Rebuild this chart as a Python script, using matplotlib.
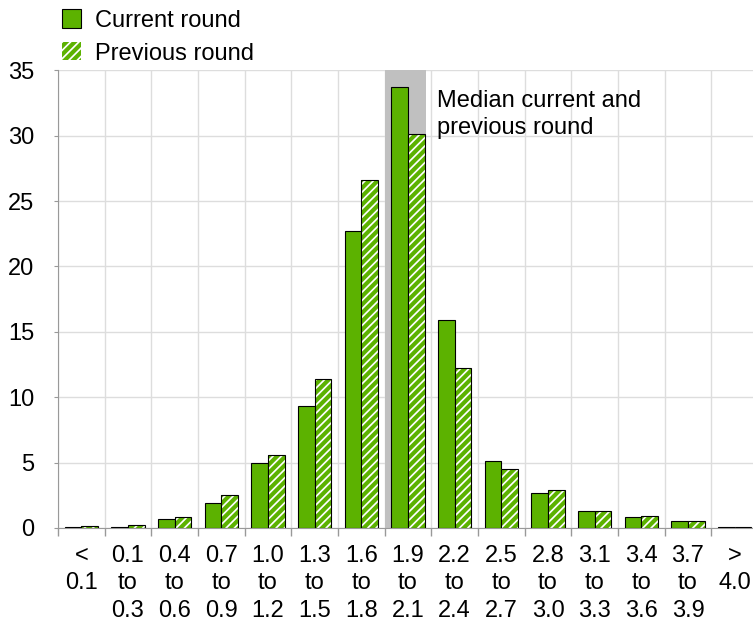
import numpy as np
import matplotlib.pyplot as plt
from matplotlib.patches import Patch

plt.rcParams['font.family'] = ['Liberation Sans', 'DejaVu Sans']
plt.rcParams['hatch.linewidth'] = 3.0

categories = ['<\n0.1', '0.1\nto\n0.3', '0.4\nto\n0.6', '0.7\nto\n0.9', '1.0\nto\n1.2',
              '1.3\nto\n1.5', '1.6\nto\n1.8', '1.9\nto\n2.1', '2.2\nto\n2.4', '2.5\nto\n2.7',
              '2.8\nto\n3.0', '3.1\nto\n3.3', '3.4\nto\n3.6', '3.7\nto\n3.9', '>\n4.0']
current = [0.1, 0.1, 0.7, 1.9, 5.0, 9.3, 22.7, 33.7, 15.9, 5.1, 2.7, 1.3, 0.85, 0.5, 0.1]
previous = [0.15, 0.2, 0.85, 2.5, 5.6, 11.4, 26.6, 30.1, 12.2, 4.5, 2.9, 1.3, 0.95, 0.5, 0.1]
median_idx = 7

green = '#5cb200'
fs = 17
x = np.arange(len(categories))
w = 0.357

fig = plt.figure(figsize=(7.53, 6.21), dpi=100)
ax = fig.add_axes([0.077, 0.1498, 700 / 753, 0.737])

ax.axvspan(median_idx - 0.5, median_idx + 0.38, color='#c0c0c0', lw=0, zorder=1)

ax.bar(x - w / 2, current, w, color=green, edgecolor='black', lw=0.8, zorder=3)
ax.bar(x + w / 2, previous, w, color='white', edgecolor=green, hatch='////', lw=0, zorder=3)
ax.bar(x + w / 2, previous, w, color='none', edgecolor='black', lw=0.8, zorder=4)

ax.set_xlim(-0.5, len(categories) - 0.5)
ax.set_ylim(0, 35)
ax.set_yticks(np.arange(0, 36, 5))
ax.set_xticks(x)
ax.set_xticklabels(categories, linespacing=1.33, va='top')
ax.set_xticks(np.arange(-0.5, len(categories), 1), minor=True)
ax.tick_params(axis='x', which='major', length=0, pad=12, labelsize=fs)
ax.tick_params(axis='x', which='minor', length=6, color='#999999', width=1)
ax.tick_params(axis='y', length=3, color='#999999', labelsize=fs, pad=14)

ax.grid(True, axis='y', color='#dddddd', lw=1, zorder=0)
ax.grid(True, axis='x', which='minor', color='#dddddd', lw=1, zorder=0)
ax.set_axisbelow(True)
for s in ['top', 'right']:
    ax.spines[s].set_visible(False)
for s in ['left', 'bottom']:
    ax.spines[s].set_color('#999999')

ax.text(median_idx + 0.62, 33.5, 'Median current and\nprevious round', fontsize=fs,
        va='top', ha='left', linespacing=1.3, zorder=5)

handles = [Patch(facecolor=green, edgecolor='black', lw=0.8, label='Current round'),
           Patch(facecolor='white', edgecolor=green, hatch='////', lw=0, label='Previous round')]
fig.legend(handles=handles, loc='upper left', bbox_to_anchor=(0.07, 1.0), frameon=False,
           fontsize=fs, handlelength=0.8, handleheight=0.8, handletextpad=0.6,
           labelspacing=0.45, borderaxespad=0)

fig.savefig('out.png', dpi=100)
